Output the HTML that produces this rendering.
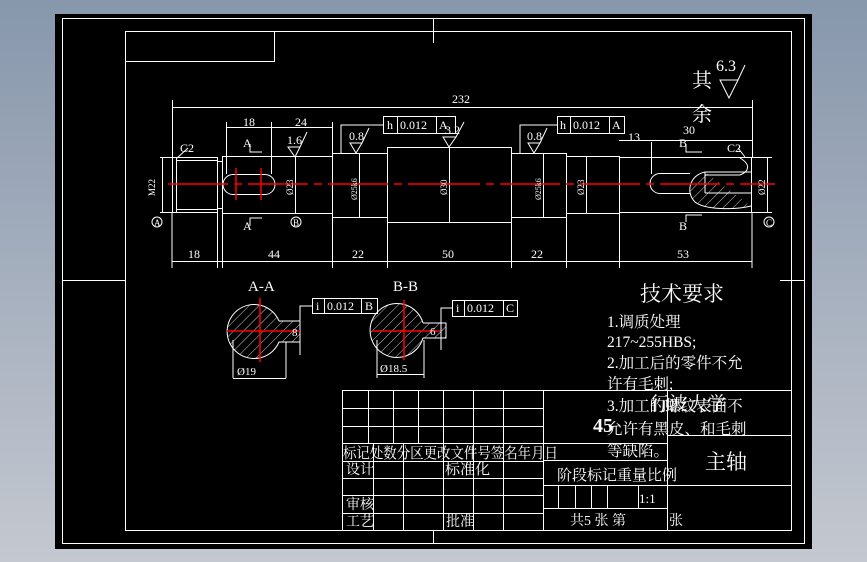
<!DOCTYPE html>
<html><head><meta charset="utf-8"><style>
html,body{margin:0;padding:0;background:#a3adbd;}
svg{display:block}
text{font-family:"Liberation Serif","Noto Serif CJK SC",serif;fill:#fff}
</style></head><body>
<svg width="867" height="562" viewBox="0 0 867 562" xmlns="http://www.w3.org/2000/svg">
<defs><linearGradient id="bg" x1="0" y1="0" x2="0" y2="1"><stop offset="0" stop-color="#8797ac"/><stop offset="1" stop-color="#c4c8d0"/></linearGradient>
<pattern id="h" width="7" height="7" patternUnits="userSpaceOnUse" patternTransform="rotate(45)"><line x1="0" y1="0" x2="0" y2="7" stroke="#fff" stroke-width="0.8"/></pattern></defs>
<rect width="867" height="562" fill="url(#bg)"/>
<rect x="55" y="14" width="757" height="535" fill="#000"/>
<g stroke="#fff" stroke-width="1" fill="none">
<rect x="62.5" y="18.5" width="742" height="525"/>
<rect x="125.5" y="31.5" width="666" height="499"/>
<polyline points="125.5,61.5 274.5,61.5 274.5,31.5"/>
<line x1="433.5" y1="18" x2="433.5" y2="43"/>
<line x1="433.5" y1="530" x2="433.5" y2="543"/>
<line x1="62" y1="280.5" x2="126" y2="280.5"/>
<line x1="780" y1="280.5" x2="804" y2="280.5"/>
<rect x="342.5" y="390.5" width="449" height="140"/>
<line x1="343" y1="408.5" x2="543" y2="408.5"/>
<line x1="343" y1="426.5" x2="543" y2="426.5"/>
<line x1="343" y1="443.5" x2="667" y2="443.5"/>
<line x1="343" y1="461.5" x2="543" y2="461.5"/>
<line x1="343" y1="478.5" x2="543" y2="478.5"/>
<line x1="343" y1="495.5" x2="543" y2="495.5"/>
<line x1="343" y1="513.5" x2="543" y2="513.5"/>
<line x1="368.5" y1="390" x2="368.5" y2="443"/>
<line x1="393.5" y1="390" x2="393.5" y2="443"/>
<line x1="418.5" y1="390" x2="418.5" y2="443"/>
<line x1="443.5" y1="390" x2="443.5" y2="530"/>
<line x1="473.5" y1="390" x2="473.5" y2="530"/>
<line x1="503.5" y1="390" x2="503.5" y2="530"/>
<line x1="373.5" y1="443" x2="373.5" y2="530"/>
<line x1="403.5" y1="443" x2="403.5" y2="530"/>
<line x1="543.5" y1="390" x2="543.5" y2="530"/>
<line x1="543" y1="460.5" x2="667" y2="460.5"/>
<line x1="543" y1="485.5" x2="792" y2="485.5"/>
<line x1="543" y1="508.5" x2="667" y2="508.5"/>
<line x1="667.5" y1="390" x2="667.5" y2="530"/>
<line x1="667" y1="435.5" x2="792" y2="435.5"/>
<line x1="558.5" y1="485" x2="558.5" y2="508"/>
<line x1="575.5" y1="485" x2="575.5" y2="508"/>
<line x1="591.5" y1="485" x2="591.5" y2="508"/>
<line x1="607.5" y1="485" x2="607.5" y2="508"/>
<line x1="638.5" y1="485" x2="638.5" y2="508"/>
<line x1="590" y1="390.5" x2="792" y2="390.5"/>
<rect x="172.5" y="157.5" width="45" height="55"/>
<line x1="176" y1="160.5" x2="217" y2="160.5"/>
<line x1="176" y1="209.5" x2="217" y2="209.5"/>
<line x1="176.5" y1="158" x2="176.5" y2="212"/>
<rect x="217.5" y="161.5" width="5" height="47"/>
<rect x="222.5" y="156.5" width="110" height="57"/>
<rect x="332.5" y="153.5" width="55" height="64"/>
<rect x="387.5" y="147.5" width="124" height="75"/>
<rect x="511.5" y="153.5" width="55" height="64"/>
<rect x="566.5" y="156.5" width="53" height="57"/>
<rect x="619.5" y="157.5" width="132" height="55"/>
<path d="M233,174.5 H265 A10,10 0 0 1 265,194.5 H233 A10,10 0 0 1 233,174.5 Z"/>
<path d="M660,173.5 H690 M660,193.5 H690 M660,173.5 A10,10 0 0 0 660,193.5"/>
<path d="M705,172 H751 M705,193 H751 M705,172 V193 M705,172 C690,175 685,192 695,202 C705,210 735,210 751,206" fill="url(#h)"/>
<path d="M740,158 C752,165 748,172 740,175 L705,175"/>
<line x1="172.5" y1="100" x2="172.5" y2="157"/><line x1="752.5" y1="100" x2="752.5" y2="157"/>
<line x1="172" y1="107.5" x2="752" y2="107.5"/>
<line x1="172" y1="213" x2="172" y2="268"/><line x1="217.5" y1="213" x2="217.5" y2="268"/><line x1="222.5" y1="213" x2="222.5" y2="268"/>
<line x1="332.5" y1="217" x2="332.5" y2="268"/><line x1="387.5" y1="222" x2="387.5" y2="268"/><line x1="511.5" y1="222" x2="511.5" y2="268"/><line x1="566.5" y1="217" x2="566.5" y2="268"/><line x1="619.5" y1="213" x2="619.5" y2="268"/><line x1="752" y1="213" x2="752" y2="268"/>
<line x1="172" y1="261.5" x2="752" y2="261.5"/>
<line x1="226.5" y1="122" x2="226.5" y2="174"/><line x1="271.5" y1="122" x2="271.5" y2="174"/><line x1="332.5" y1="122" x2="332.5" y2="153"/>
<line x1="226" y1="127.5" x2="332" y2="127.5"/>
<line x1="651.5" y1="142" x2="651.5" y2="174"/>
<line x1="619" y1="140.5" x2="752" y2="140.5"/>
<line x1="160" y1="157.5" x2="172" y2="157.5"/><line x1="160" y1="212.5" x2="172" y2="212.5"/><line x1="162.5" y1="157" x2="162.5" y2="212"/>
<line x1="295.5" y1="157" x2="295.5" y2="213"/>
<line x1="359.5" y1="153" x2="359.5" y2="217"/>
<line x1="449.5" y1="147" x2="449.5" y2="222"/>
<line x1="543.5" y1="153" x2="543.5" y2="217"/>
<line x1="586.5" y1="157" x2="586.5" y2="213"/>
<line x1="767.5" y1="157" x2="767.5" y2="212"/><line x1="752" y1="157.5" x2="772" y2="157.5"/><line x1="752" y1="212.5" x2="772" y2="212.5"/>
<rect x="383.5" y="116.5" width="72" height="17"/><line x1="397.5" y1="116" x2="397.5" y2="133"/><line x1="436.5" y1="116" x2="436.5" y2="133"/>
<polyline points="383,125 341,125 341,153"/>
<rect x="557.5" y="116.5" width="67" height="17"/><line x1="570.5" y1="116" x2="570.5" y2="133"/><line x1="609.5" y1="116" x2="609.5" y2="133"/>
<polyline points="557,125 520,125 520,153"/>
<path d="M350,143 H362 L356,153 Z M362,143 L369,128"/>
<path d="M288,147 H300 L295,157 Z M300,147 L307,132"/>
<path d="M443,137 H456 L449,147 Z M456,137 L464,122"/>
<path d="M528,143 H540 L534,153 Z M540,143 L547,128"/>
<path d="M720,80 H738 L729,98 Z M738,80 L745,65"/>
<circle cx="157" cy="222" r="5"/><circle cx="296" cy="222" r="5"/><circle cx="769" cy="222" r="5"/>
<polyline points="250,144 250,152 262,152"/><polyline points="250,226 250,218 262,218"/>
<polyline points="686,144 686,152 702,152"/><polyline points="686,222 686,215 702,215"/>
<line x1="177" y1="158" x2="188" y2="148"/>
<line x1="745" y1="157" x2="738" y2="148"/>
<path d="M279,321 H300 V342 H279 A27,27 0 1 1 279,321" fill="url(#h)"/>
<line x1="286" y1="342" x2="286" y2="378"/><line x1="233" y1="340" x2="233" y2="378"/><line x1="233" y1="378.5" x2="286" y2="378.5"/>
<rect x="312.5" y="298.5" width="65" height="15"/><line x1="324.5" y1="298" x2="324.5" y2="313"/><line x1="361.5" y1="298" x2="361.5" y2="313"/>
<polyline points="312,306 300,306 300,355"/>
<path d="M423,323 H446 V338 H423 A27,27 0 1 1 423,323" fill="url(#h)"/>
<line x1="377" y1="340" x2="377" y2="378"/><line x1="424" y1="340" x2="424" y2="378"/><line x1="377" y1="374.5" x2="424" y2="374.5"/>
<rect x="452.5" y="300.5" width="65" height="16"/><line x1="464.5" y1="300" x2="464.5" y2="316"/><line x1="503.5" y1="300" x2="503.5" y2="316"/>
<polyline points="452,308 441,308 441,350"/>
</g>
<g stroke="#f00" stroke-width="1.5">
<line x1="168" y1="184" x2="420" y2="184" stroke-dasharray="60,6,8,6"/>
<line x1="420" y1="184" x2="775" y2="184" stroke-dasharray="60,6,8,6"/>
<line x1="236" y1="168" x2="236" y2="200"/><line x1="261" y1="168" x2="261" y2="200"/>
<line x1="260" y1="298" x2="260" y2="362"/><line x1="227" y1="331" x2="300" y2="331"/>
<line x1="404" y1="300" x2="404" y2="360"/><line x1="372" y1="331" x2="440" y2="331"/>
</g>
<g font-size="12">
<text x="452" y="103">232</text>
<text x="188" y="258">18</text><text x="268" y="258">44</text><text x="352" y="258">22</text><text x="442" y="258">50</text><text x="531" y="258">22</text><text x="677" y="258">53</text>
<text x="243" y="126">18</text><text x="295" y="126">24</text>
<text x="628" y="141">13</text><text x="683" y="134">30</text>
<text x="180" y="152">C2</text><text x="727" y="152">C2</text>
<text x="243" y="147">A</text><text x="243" y="230">A</text><text x="679" y="147">B</text><text x="679" y="230">B</text>
<text x="154" y="226" font-size="9">A</text><text x="293" y="226" font-size="9">B</text><text x="766" y="226" font-size="9">C</text>
<text x="349" y="140">0.8</text><text x="287" y="144">1.6</text><text x="445" y="134">3.2</text><text x="527" y="140">0.8</text>
<text x="387" y="129">h</text><text x="400" y="129">0.012</text><text x="439" y="129">A</text>
<text x="560" y="129">h</text><text x="573" y="129">0.012</text><text x="612" y="129">A</text>
<text x="316" y="310">i</text><text x="327" y="310">0.012</text><text x="365" y="310">B</text>
<text x="456" y="312">i</text><text x="467" y="312">0.012</text><text x="506" y="312">C</text>
<text x="237" y="375" font-size="11">Ø19</text><text x="380" y="372" font-size="11">Ø18.5</text>
<text x="292" y="336" font-size="11">8</text><text x="430" y="335" font-size="11">6</text>
<text transform="translate(155,196) rotate(-90)" font-size="9">M22</text>
<text transform="translate(293,195) rotate(-90)" font-size="9">Ø23</text>
<text transform="translate(357,200) rotate(-90)" font-size="8">Ø25k6</text>
<text transform="translate(447,195) rotate(-90)" font-size="9">Ø30</text>
<text transform="translate(541,200) rotate(-90)" font-size="8">Ø25k6</text>
<text transform="translate(584,195) rotate(-90)" font-size="9">Ø23</text>
<text transform="translate(765,195) rotate(-90)" font-size="9">Ø22</text>
</g>
<text x="248" y="291" font-size="15">A-A</text><text x="393" y="291" font-size="15">B-B</text>
<text x="716" y="71" font-size="16">6.3</text>
<text x="692" y="87" font-size="20">其</text><text x="692" y="121" font-size="20">余</text>
<text x="640" y="301" font-size="21">技术要求</text>
<g font-size="15.5">
<text x="607" y="327">1.调质处理</text>
<text x="607" y="347">217~255HBS;</text>
<text x="607" y="368">2.加工后的零件不允</text>
<text x="607" y="389">许有毛刺;</text>
<text x="607" y="411">3.加工的螺纹表面不</text>
<text x="607" y="434">允许有黑皮、和毛刺</text>
<text x="607" y="456">等缺陷。</text>
</g>
<text x="593" y="432" font-size="20" font-weight="bold">45</text>
<text x="650" y="410" font-size="19">行波大学</text>
<text x="705" y="469" font-size="21">主轴</text>
<text x="343" y="458" font-size="15" textLength="215" lengthAdjust="spacingAndGlyphs">标记处数分区更改文件号签名年月日</text>
<text x="346" y="474" font-size="14">设计</text><text x="445" y="474" font-size="15">标准化</text>
<text x="346" y="509" font-size="14">审核</text><text x="346" y="526" font-size="14">工艺</text><text x="446" y="526" font-size="14">批准</text>
<text x="557" y="480" font-size="15">阶段标记重量比例</text>
<text x="639" y="503" font-size="13">1:1</text>
<text x="570" y="525" font-size="14">共5 张 第</text><text x="669" y="525" font-size="14">张</text>
</svg>
</body></html>
